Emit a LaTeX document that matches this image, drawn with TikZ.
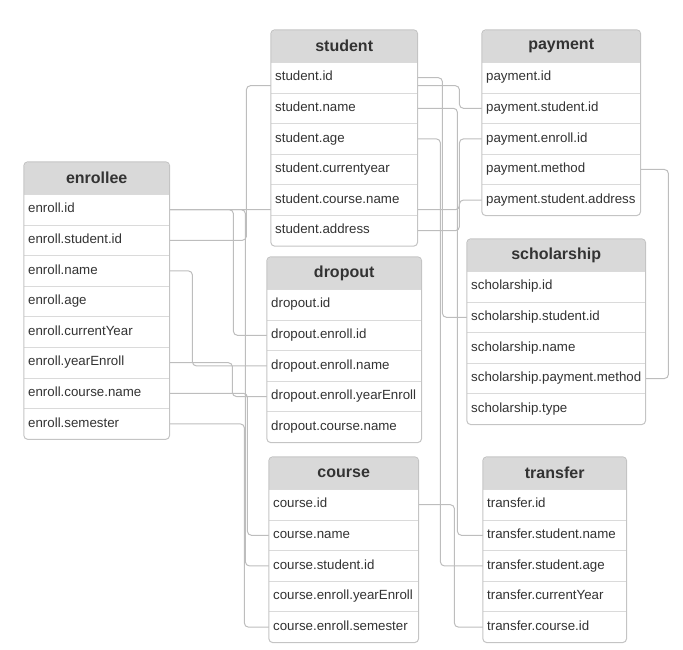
\documentclass[tikz,border=0pt]{standalone}
\usepackage{fontspec}
\setmainfont{Liberation Sans}
\usetikzlibrary{positioning, fit, backgrounds}
\definecolor{hdrfill}{HTML}{D9D9D9}
\definecolor{boxline}{HTML}{C4C4C4}
\definecolor{sepline}{HTML}{DADADA}
\definecolor{wiregray}{HTML}{BDBDBD}
\definecolor{ink}{HTML}{333333}

\begin{document}
\begin{tikzpicture}[
  x=1pt, y=1pt,
  hdr/.style={fill=hdrfill, rounded corners=4pt, anchor=north west, minimum height=32pt,
              inner sep=0pt, font=\fontsize{16}{18}\selectfont\bfseries, text=ink},
  row/.style={text width=#1, inner xsep=4pt, inner ysep=0pt, minimum height=30.2pt,
              text height=9.5pt, text depth=3pt, align=left, text=ink,
              font=\fontsize{13.3}{15}\selectfont,
              append after command={\pgfextra{\let\rownode\tikzlastnode}
                (\rownode.north west) edge[sep] (\rownode.north east)}},
  row/.default=137pt,
  box/.style={fill=white, inner sep=0pt, rounded corners=4pt},
  sep/.style={draw=sepline, line width=0.8pt},
  wire/.style={draw=wiregray, line width=1pt, rounded corners=4pt}
]
\useasboundingbox (0,0) rectangle (683,-650);

% enrollee
\node[hdr, minimum width=145pt] (enr) at (24,-162) {enrollee};
\node[row=137pt, below=0pt of enr]      (enr-id)   {enroll.id};
\node[row=137pt, below=0pt of enr-id]   (enr-sid)  {enroll.student.id};
\node[row=137pt, below=0pt of enr-sid]  (enr-name) {enroll.name};
\node[row=137pt, below=0pt of enr-name] (enr-age)  {enroll.age};
\node[row=137pt, below=0pt of enr-age]  (enr-cy)   {enroll.currentYear};
\node[row=137pt, below=0pt of enr-cy]   (enr-ye)   {enroll.yearEnroll};
\node[row=137pt, below=0pt of enr-ye]   (enr-cn)   {enroll.course.name};
\node[row=137pt, below=0pt of enr-cn]   (enr-sem)  {enroll.semester};

% student
\node[hdr, minimum width=146pt] (stu) at (271,-30) {student};
\node[row=138pt, below=0pt of stu]      (stu-id)   {student.id};
\node[row=138pt, below=0pt of stu-id]   (stu-name) {student.name};
\node[row=138pt, below=0pt of stu-name] (stu-age)  {student.age};
\node[row=138pt, below=0pt of stu-age]  (stu-cy)   {student.currentyear};
\node[row=138pt, below=0pt of stu-cy]   (stu-cn)   {student.course.name};
\node[row=138pt, below=0pt of stu-cn]   (stu-addr) {student.address};

% payment
\node[hdr, minimum width=158pt] (pay) at (482,-30) {payment};
\node[row=150pt, below=0pt of pay]      (pay-id)   {payment.id};
\node[row=150pt, below=0pt of pay-id]   (pay-sid)  {payment.student.id};
\node[row=150pt, below=0pt of pay-sid]  (pay-eid)  {payment.enroll.id};
\node[row=150pt, below=0pt of pay-eid]  (pay-meth) {payment.method};
\node[row=150pt, below=0pt of pay-meth] (pay-addr) {payment.student.address};

% dropout
\node[hdr, minimum width=154pt] (drp) at (267,-257) {dropout};
\node[row=146pt, below=0pt of drp]       (drp-id)    {dropout.id};
\node[row=146pt, below=0pt of drp-id]    (drp-eid)   {dropout.enroll.id};
\node[row=146pt, below=0pt of drp-eid]   (drp-ename) {dropout.enroll.name};
\node[row=146pt, below=0pt of drp-ename] (drp-eye)   {dropout.enroll.yearEnroll};
\node[row=146pt, below=0pt of drp-eye]   (drp-cn)    {dropout.course.name};

% scholarship
\node[hdr, minimum width=178pt] (sch) at (467,-239) {scholarship};
\node[row=170pt, below=0pt of sch]      (sch-id)   {scholarship.id};
\node[row=170pt, below=0pt of sch-id]   (sch-sid)  {scholarship.student.id};
\node[row=170pt, below=0pt of sch-sid]  (sch-name) {scholarship.name};
\node[row=170pt, below=0pt of sch-name] (sch-pm)   {scholarship.payment.method};
\node[row=170pt, below=0pt of sch-pm]   (sch-type) {scholarship.type};

% course
\node[hdr, minimum width=149pt] (crs) at (269,-457) {course};
\node[row=141pt, below=0pt of crs]      (crs-id)   {course.id};
\node[row=141pt, below=0pt of crs-id]   (crs-name) {course.name};
\node[row=141pt, below=0pt of crs-name] (crs-sid)  {course.student.id};
\node[row=141pt, below=0pt of crs-sid]  (crs-eye)  {course.enroll.yearEnroll};
\node[row=141pt, below=0pt of crs-eye]  (crs-sem)  {course.enroll.semester};

% transfer
\node[hdr, minimum width=143pt] (trf) at (483,-457) {transfer};
\node[row=135pt, below=0pt of trf]       (trf-id)    {transfer.id};
\node[row=135pt, below=0pt of trf-id]    (trf-sname) {transfer.student.name};
\node[row=135pt, below=0pt of trf-sname] (trf-sage)  {transfer.student.age};
\node[row=135pt, below=0pt of trf-sage]  (trf-cy)    {transfer.currentYear};
\node[row=135pt, below=0pt of trf-cy]    (trf-cid)   {transfer.course.id};

\begin{scope}[on background layer]
  % links
  \draw[wire] (enr-id.east)   -- ++(64,0) |- (drp-eid.west);
  \draw[wire] (enr-id.east)   -- ++(290,0) |- (pay-eid.west);
  \draw[wire] (enr-id.east)   -- ++(76,0) |- (crs-sid.west);
  \draw[wire] (enr-sid.east)  -- ++(77,0) |- ([yshift=-8]stu-id.west)
                              -- ([yshift=-8]stu-id.east) -- ++(42,0) |- (pay-sid.west);
  \draw[wire] (enr-name.east) -- ++(23,0) |- (drp-ename.west);
  \draw[wire] (enr-ye.east)   -- ++(63,0) |- (drp-eye.west);
  \draw[wire] (enr-cn.east)   -- ++(78,0) |- (crs-name.west);
  \draw[wire] (enr-sem.east)  -- ++(75,0) |- (crs-sem.west);
  \draw[wire] (stu-id.east)   -- ++(25,0) |- (sch-sid.west);
  \draw[wire] (stu-name.east) -- ++(40,0) |- (trf-sname.west);
  \draw[wire] (stu-age.east)  -- ++(23,0) |- (trf-sage.west);
  \draw[wire] (stu-addr.east) -- ++(42,0) |- (pay-addr.west);
  \draw[wire] (pay-meth.east) -- ++(28,0) |- (sch-pm.east);
  \draw[wire] (crs-id.east)   -- ++(36,0) |- (trf-cid.west);

  % table bodies
  \node[box, fit=(enr)(enr-sem)]  (enr-box) {};
  \node[box, fit=(stu)(stu-addr)] (stu-box) {};
  \node[box, fit=(pay)(pay-addr)] (pay-box) {};
  \node[box, fit=(drp)(drp-cn)]   (drp-box) {};
  \node[box, fit=(sch)(sch-type)] (sch-box) {};
  \node[box, fit=(crs)(crs-sem)]  (crs-box) {};
  \node[box, fit=(trf)(trf-cid)]  (trf-box) {};
\end{scope}

% square off header bottoms, then outline the tables
\foreach \t in {enr,stu,pay,drp,sch,crs,trf}{
  \fill[hdrfill] ([yshift=6]\t.south west) rectangle (\t.south east);
  \draw[sep] (\t.south west) -- (\t.south east);
  \draw[draw=boxline, line width=1pt, rounded corners=4pt]
    (\t-box.south west) rectangle (\t-box.north east);
}
\end{tikzpicture}
\end{document}
